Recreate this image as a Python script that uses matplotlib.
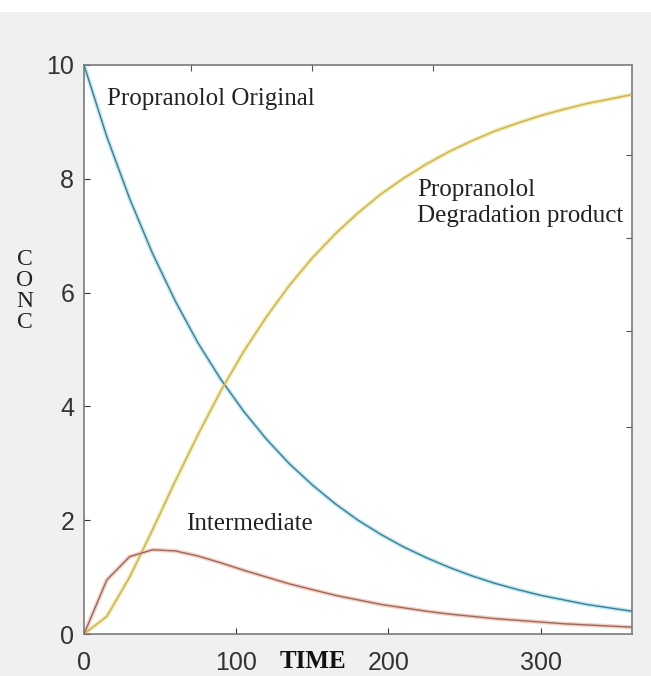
import matplotlib
matplotlib.use("Agg")
import matplotlib.pyplot as plt
from matplotlib.patches import Rectangle

# sampled concentrations, every 15 time units
time = [0, 15, 30, 45, 60, 75, 90, 105, 120, 135, 150, 165, 180,
        195, 210, 225, 240, 255, 270, 285, 300, 315, 330, 345, 360]
original = [10.0, 8.74, 7.65, 6.69, 5.85, 5.11, 4.47, 3.91, 3.42, 2.99, 2.62, 2.29, 2.00,
            1.75, 1.53, 1.34, 1.17, 1.02, 0.89, 0.78, 0.68, 0.60, 0.52, 0.46, 0.40]
intermediate = [0.0, 0.95, 1.36, 1.48, 1.46, 1.37, 1.25, 1.12, 1.00, 0.88, 0.78, 0.68, 0.60,
                0.52, 0.46, 0.40, 0.35, 0.31, 0.27, 0.24, 0.21, 0.18, 0.16, 0.14, 0.12]
degradation = [0.0, 0.31, 1.00, 1.83, 2.69, 3.51, 4.28, 4.97, 5.58, 6.13, 6.61, 7.03, 7.40,
               7.73, 8.01, 8.26, 8.48, 8.67, 8.84, 8.98, 9.11, 9.22, 9.32, 9.40, 9.48]

xticks = [0, 100, 200, 300]
yticks = [0, 2, 4, 6, 8, 10]

fig = plt.figure(figsize=(6.51, 6.76), dpi=100, facecolor="#f0f0f0")
# white strip along the top edge
fig.patches.append(Rectangle((0, 1 - 12 / 676), 1, 12 / 676, transform=fig.transFigure,
                             facecolor="white", edgecolor="none", zorder=0))

ax = fig.add_axes([84 / 651, 1 - 634 / 676, 548 / 651, 569 / 676])
ax.set_facecolor("white")

# each curve: pale halo plus darker core
curves = [
    (original, "#bde8f3", "#3f7d90"),
    (degradation, "#f3eaa8", "#c8b25a"),
    (intermediate, "#f5d0c2", "#9a6a60"),
]
for values, halo, core in curves:
    ax.plot(time, values, color=halo, lw=3.0, solid_capstyle="round", zorder=2)
    ax.plot(time, values, color=core, lw=1.0, zorder=3)

ax.set_xlim(0, 360)
ax.set_ylim(0, 10)
ax.set_xticks(xticks)
ax.set_yticks(yticks)
ax.tick_params(axis="x", direction="in", length=4, pad=12, labelsize=18, colors="#333333")
ax.tick_params(axis="y", direction="in", length=4, pad=7, labelsize=18, colors="#333333")
for lab in ax.get_xticklabels() + ax.get_yticklabels():
    lab.set_family("Liberation Sans")

for side in ax.spines.values():
    side.set_color("#7a7a7a")
    side.set_linewidth(1.2)

# extra tick marks on top and right edges
top = ax.secondary_xaxis("top")
top.set_xticks([70, 150, 229])
top.set_xticklabels([])
top.tick_params(direction="in", length=4, color="#555555")
top.spines["top"].set_visible(False)
right = ax.secondary_yaxis("right")
right.set_yticks([8.42, 6.96, 5.32, 3.63])
right.set_yticklabels([])
right.tick_params(direction="in", length=4, color="#555555")
right.spines["right"].set_visible(False)

serif = "Liberation Serif"
ax.text(15, 9.40, "Propranolol Original", family=serif, fontsize=18, color="#222222",
        va="center", ha="left")
ax.text(219, 7.57, "Propranolol\nDegradation product", family=serif, fontsize=18,
        color="#222222", va="center", ha="left", linespacing=1.25)
ax.text(67, 1.93, "Intermediate", family=serif, fontsize=18, color="#222222",
        va="center", ha="left")

fig.text(313 / 651, 1 - 661 / 676, "TIME", family=serif, fontsize=18, fontweight="bold",
         color="#111111", ha="center", va="center")
fig.text(25 / 651, 1 - 291 / 676, "C\nO\nN\nC", family=serif, fontsize=17, color="#222222",
         ha="center", va="center", linespacing=1.0)

fig.savefig("out.png", dpi=100, facecolor=fig.get_facecolor())
